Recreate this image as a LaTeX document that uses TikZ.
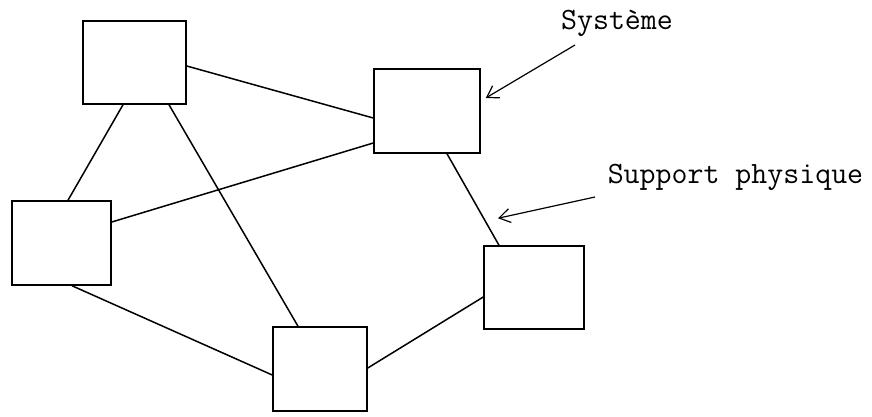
\documentclass[tikz,border=0pt]{standalone}
\usetikzlibrary{arrows.meta}
\begin{document}
\begin{tikzpicture}[x=1pt,y=1pt,line width=1.5pt,
		box/.style={draw,rectangle,inner sep=0pt},
		tag/.style={inner sep=0pt,font=\ttfamily\fontsize{31}{37}\selectfont},
		pointer/.style={-{Straight Barb[length=11pt,width=14pt]},line width=1.2pt}]
			\useasboundingbox (0,0) rectangle (872,416);
			\node[box,minimum width=103pt,minimum height=83pt] (A) at (134.5,353.5) {};
			\node[box,minimum width=106pt,minimum height=84pt] (B) at (427,305) {};
			\node[box,minimum width=99pt,minimum height=84pt] (C) at (61.5,173) {};
			\node[box,minimum width=100pt,minimum height=83pt] (D) at (534,128.5) {};
			\node[box,minimum width=94pt,minimum height=84pt] (E) at (320,47) {};
			\draw ([yshift=-3.5pt]A.east) -- ([yshift=-7pt]B.west);
			\draw ([xshift=-11.5pt]A.south) -- ([xshift=6.5pt]C.north);
			\draw ([xshift=34.5pt]A.south) -- ([xshift=-22pt]E.north);
			\draw ([yshift=21pt]C.east) -- ([yshift=-32pt]B.west);
			\draw ([xshift=10.5pt]C.south) -- ([yshift=-6pt]E.west);
			\draw ([xshift=20pt]B.south) -- ([xshift=-35pt]D.north);
			\draw ([yshift=1pt]E.east) -- ([yshift=-9.5pt]D.west);
			\node[tag,anchor=base] (sys) at (617,386) {Système};
			\node[tag,anchor=base west] (sup) at (607,233) {Support physique};
			\draw[pointer] ([xshift=-42pt,yshift=-15pt]sys.base) -- ([xshift=5pt,yshift=13pt]B.east);
			\draw[pointer] ([xshift=-12pt,yshift=-14pt]sup.base west) -- ([xshift=-36pt,yshift=27pt]D.north);
		\end{tikzpicture}
\end{document}
